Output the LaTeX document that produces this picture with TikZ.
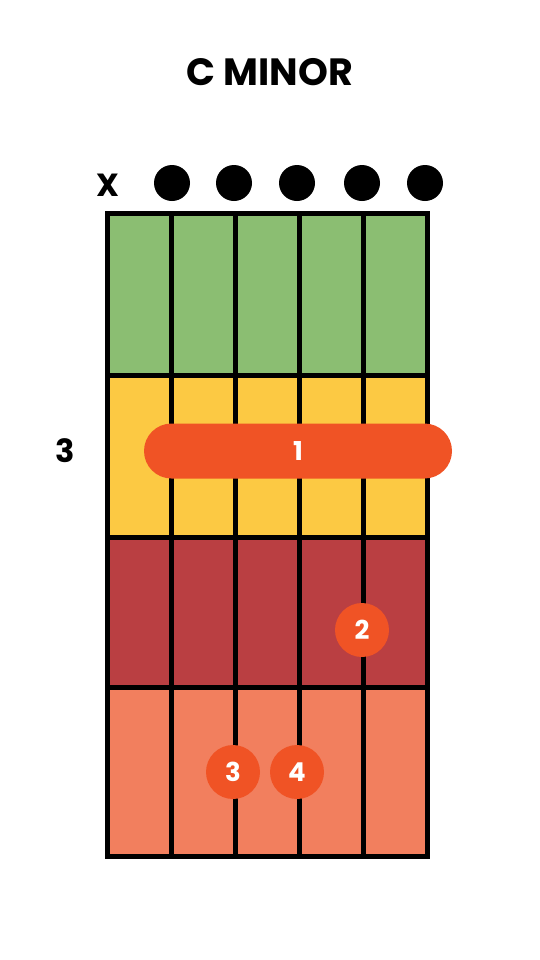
\documentclass[tikz,border=0pt]{standalone}
\usepackage{fontspec}
\setmainfont{Poppins}
\definecolor{fretgreen}{HTML}{8BBE72}
\definecolor{fretyellow}{HTML}{FCC943}
\definecolor{fretred}{HTML}{BA3F42}
\definecolor{fretsalmon}{HTML}{F27F5E}
\definecolor{fingerorange}{HTML}{F05325}
\begin{document}
\begin{tikzpicture}[
    x=0.5pt,
    y=-0.5pt,
    every node/.style={font=\bfseries},
    wire/.style={draw=black, line width=2.5pt, line cap=rect},
    openmark/.style={circle, fill=black, inner sep=0pt, minimum size=18pt},
    fingermark/.style={circle, fill=fingerorange, text=white, inner sep=0pt, minimum size=27pt, font=\bfseries\fontsize{13}{13}\selectfont},
    barremark/.style={rectangle, rounded corners=13.75pt, fill=fingerorange, text=white, inner sep=0pt, minimum width=154pt, minimum height=27.5pt, font=\bfseries\fontsize{13}{13}\selectfont}
]
    \useasboundingbox (0,0) rectangle (540,960);

    \node[font=\bfseries\fontsize{19}{19}\selectfont] (title) at (270,72) {C MINOR};

    % fret rows
    \fill[fretgreen] (107,213) rectangle (427,375);
    \fill[fretyellow] (107,375) rectangle (427,537);
    \fill[fretred] (107,537) rectangle (427,687);
    \fill[fretsalmon] (107,687) rectangle (427,856);

    \foreach \x in {107,171,235,299,363,427}{
        \draw[wire] (\x,213) -- (\x,856);
    }
    \foreach \y in {213,375,537,687,856}{
        \draw[wire] (107,\y) -- (427,\y);
    }

    % string marks
    \node[font=\bfseries\fontsize{16}{16}\selectfont] (mute) at (108,185) {X};
    \foreach \x/\s in {172/2, 234/3, 297/4, 362/5, 425/6}{
        \node[openmark] (open\s) at (\x,183) {};
    }

    \node[font=\bfseries\fontsize{16}{16}\selectfont] (fretno) at (65,451) {3};

    % fingers
    \node[barremark] (barre) at (298,451) {1};
    \foreach \x/\y/\f in {362/630/2, 233/772/3, 297/772/4}{
        \node[fingermark] (finger\f) at (\x,\y) {\f};
    }

\end{tikzpicture}
\end{document}
